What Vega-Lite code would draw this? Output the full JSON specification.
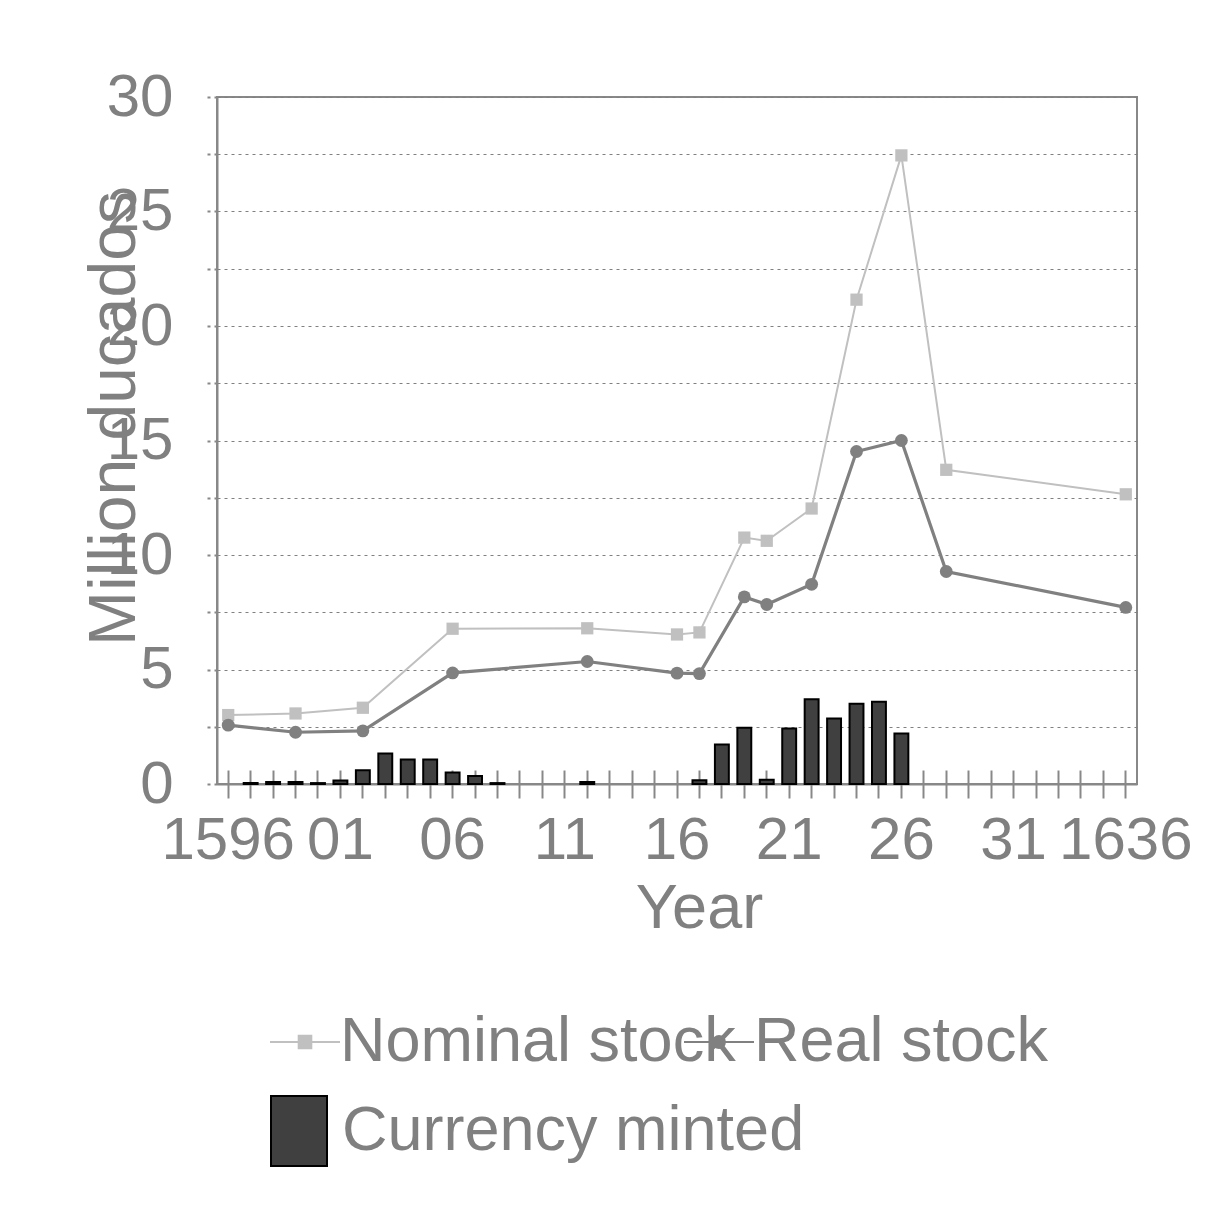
{
  "$schema": "https://vega.github.io/schema/vega-lite/v6.json",
  "autosize": {"type": "none"},
  "width": 920,
  "height": 687,
  "padding": {"left": 217, "top": 97, "right": 71, "bottom": 421},
  "background": "white",
  "datasets": {
    "minted": [
      {"year": 1597, "minted": 0.04}, {"year": 1598, "minted": 0.09}, {"year": 1599, "minted": 0.09},
      {"year": 1600, "minted": 0.04}, {"year": 1601, "minted": 0.15}, {"year": 1602, "minted": 0.6},
      {"year": 1603, "minted": 1.33}, {"year": 1604, "minted": 1.07}, {"year": 1605, "minted": 1.07},
      {"year": 1606, "minted": 0.5}, {"year": 1607, "minted": 0.35}, {"year": 1608, "minted": 0.04},
      {"year": 1612, "minted": 0.09}, {"year": 1617, "minted": 0.16}, {"year": 1618, "minted": 1.72},
      {"year": 1619, "minted": 2.46}, {"year": 1620, "minted": 0.19}, {"year": 1621, "minted": 2.42},
      {"year": 1622, "minted": 3.7}, {"year": 1623, "minted": 2.86}, {"year": 1624, "minted": 3.5},
      {"year": 1625, "minted": 3.59}, {"year": 1626, "minted": 2.2}
    ],
    "nominal": [
      {"year": 1596, "value": 3.01}, {"year": 1599, "value": 3.08}, {"year": 1602, "value": 3.33},
      {"year": 1606, "value": 6.78}, {"year": 1612, "value": 6.8}, {"year": 1616, "value": 6.53},
      {"year": 1617, "value": 6.62}, {"year": 1619, "value": 10.76}, {"year": 1620, "value": 10.62},
      {"year": 1622, "value": 12.03}, {"year": 1624, "value": 21.15}, {"year": 1626, "value": 27.45},
      {"year": 1628, "value": 13.72}, {"year": 1636, "value": 12.65}
    ],
    "real": [
      {"year": 1596, "value": 2.57}, {"year": 1599, "value": 2.26}, {"year": 1602, "value": 2.32},
      {"year": 1606, "value": 4.85}, {"year": 1612, "value": 5.35}, {"year": 1616, "value": 4.84},
      {"year": 1617, "value": 4.82}, {"year": 1619, "value": 8.17}, {"year": 1620, "value": 7.84},
      {"year": 1622, "value": 8.72}, {"year": 1624, "value": 14.52}, {"year": 1626, "value": 15.0},
      {"year": 1628, "value": 9.28}, {"year": 1636, "value": 7.71}
    ]
  },
  "layer": [
    {
      "data": {"name": "minted"},
      "mark": {"type": "bar", "width": {"band": 0.62}, "fill": "#404040", "strokeWidth": 2},
      "encoding": {
        "x": {
          "field": "year", "type": "ordinal",
          "scale": {"domain": [1596,1597,1598,1599,1600,1601,1602,1603,1604,1605,1606,1607,1608,1609,1610,1611,1612,1613,1614,1615,1616,1617,1618,1619,1620,1621,1622,1623,1624,1625,1626,1627,1628,1629,1630,1631,1632,1633,1634,1635,1636], "paddingInner": 0, "paddingOuter": 0},
          "axis": {
            "orient": "bottom", "title": "Year", "titleX": 482, "titleY": 143, "titleBaseline": "alphabetic", "titleAlign": "center", "titleFontSize": 63,
            "labelAngle": 0, "labelOverlap": false, "labelBound": false,
            "labelExpr": "(datum.value - 1596) % 5 == 0 ? ((datum.value == 1596 || datum.value == 1636) ? toString(datum.value) : substring(toString(datum.value), 2, 4)) : ''",
            "tickSize": 14, "labelPadding": 13, "grid": false
          }
        },
        "y": {
          "field": "minted", "type": "quantitative",
          "scale": {"domain": [0, 30], "nice": false, "zero": true},
          "axis": {
            "title": "Million ducados",
            "values": [0,2.5,5,7.5,10,12.5,15,17.5,20,22.5,25,27.5,30],
            "labelExpr": "datum.value % 5 == 0 ? datum.label : ''",
            "titleX": -83, "titleY": 321, "titleAngle": -90, "titleAlign": "center", "titleBaseline": "alphabetic", "titleFontSize": 66,
            "tickSize": 14, "tickDash": [3, 4], "labelPadding": 30, "grid": true
          }
        },
        "stroke": {
          "datum": "Currency minted", "type": "nominal",
          "scale": {"range": ["black"]},
          "legend": {
            "orient": "none", "legendX": 46, "legendY": 998, "title": null, "padding": 0,
            "labelOffset": 7, "symbolSize": 4900, "symbolFillColor": "#404040", "symbolStrokeWidth": 2,
            "symbolType": "M-0.8,-1L0.8,-1L0.8,1L-0.8,1Z"
          }
        }
      }
    },
    {
      "data": {"name": "nominal"},
      "mark": {"type": "line", "color": "#c0c0c0", "strokeWidth": 2},
      "encoding": {
        "x": {
          "field": "year", "type": "ordinal",
          "axis": {"orient": "bottom", "tickSize": -14, "labels": false, "domain": false, "title": null, "grid": false}
        },
        "y": {"field": "value", "type": "quantitative", "axis": {"title": "Million ducados"}}
      }
    },
    {
      "data": {"name": "real"},
      "mark": {"type": "line", "color": "#808080", "strokeWidth": 3.2},
      "encoding": {
        "x": {"field": "year", "type": "ordinal", "axis": null},
        "y": {"field": "value", "type": "quantitative", "axis": {"title": "Million ducados"}}
      }
    },
    {
      "data": {"name": "nominal"},
      "mark": {"type": "point", "shape": "square", "filled": true, "opacity": 1, "size": 150},
      "encoding": {
        "x": {"field": "year", "type": "ordinal", "axis": null},
        "y": {"field": "value", "type": "quantitative", "axis": {"title": "Million ducados"}},
        "fill": {
          "datum": "Nominal stock", "type": "nominal",
          "scale": {"range": ["#c0c0c0"]},
          "legend": {
            "orient": "none", "legendX": 52, "legendY": 909, "title": null, "padding": 0,
            "labelOffset": -1, "symbolSize": 4900, "symbolStrokeColor": "#c0c0c0", "symbolStrokeWidth": 2,
            "symbolOpacity": 1,
            "symbolType": "M-1,0L1,0M-0.18,-0.18L0.18,-0.18L0.18,0.18L-0.18,0.18Z"
          }
        }
      }
    },
    {
      "data": {"name": "real"},
      "mark": {"type": "point", "shape": "circle", "filled": true, "opacity": 1, "size": 165},
      "encoding": {
        "x": {"field": "year", "type": "ordinal", "axis": null},
        "y": {"field": "value", "type": "quantitative", "axis": {"title": "Million ducados"}},
        "color": {
          "datum": "Real stock", "type": "nominal",
          "scale": {"range": ["#808080"]},
          "legend": {
            "orient": "none", "legendX": 466, "legendY": 909, "title": null, "padding": 0,
            "labelOffset": -1, "symbolSize": 4900, "symbolStrokeColor": "#808080", "symbolStrokeWidth": 2,
            "symbolOpacity": 1,
            "symbolType": "M-1,0L1,0M-0.17,0A0.17,0.17,0,1,1,0.17,0A0.17,0.17,0,1,1,-0.17,0Z"
          }
        }
      }
    }
  ],
  "resolve": {"axis": {"x": "independent"}},
  "config": {
    "font": "Liberation Sans",
    "view": {"stroke": "#888888", "strokeWidth": 2},
    "axis": {
      "labelFont": "Liberation Sans", "labelFontSize": 60, "labelColor": "#808080",
      "titleFont": "Liberation Sans", "titleFontSize": 60, "titleColor": "#808080", "titleFontWeight": "normal",
      "domainColor": "#888888", "domainWidth": 2,
      "tickColor": "#888888", "tickWidth": 2,
      "gridColor": "#808080", "gridDash": [3, 4], "gridWidth": 1
    },
    "legend": {
      "labelFont": "Liberation Sans", "labelFontSize": 63, "labelColor": "#808080", "labelLimit": 2000
    }
  }
}
